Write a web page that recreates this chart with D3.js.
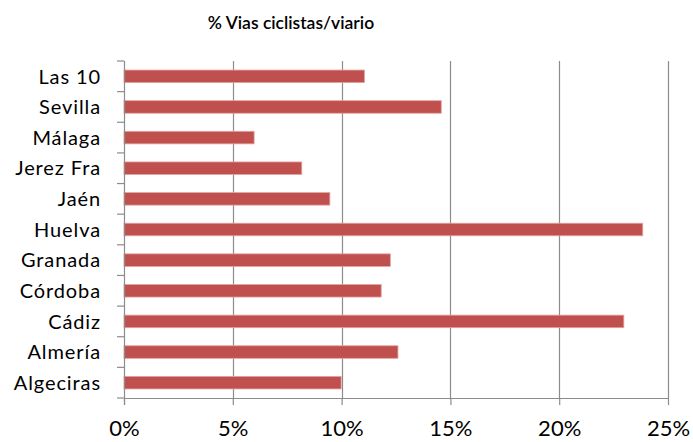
<!DOCTYPE html>
<html>
<head>
<meta charset="utf-8">
<script src="https://cdn.jsdelivr.net/npm/d3@7/dist/d3.min.js"></script>
<style>
  html, body { margin: 0; padding: 0; background: #fff; }
  svg { display: block; }
  text { font-family: Lato, "Open Sans", sans-serif; fill: #000; }
</style>
</head>
<body>
<div id="chart"></div>
<script>
// Share of cycle lanes over total road network, by city
const categories = ["Las 10", "Sevilla", "Málaga", "Jerez Fra", "Jaén", "Huelva",
                    "Granada", "Córdoba", "Cádiz", "Almería", "Algeciras"];
const values = [0.1105, 0.1458, 0.0598, 0.0817, 0.0946, 0.2384,
                0.1224, 0.1182, 0.2297, 0.1259, 0.0998];
const xTicks = [0, 0.05, 0.10, 0.15, 0.20, 0.25];
const title = "% Vias ciclistas/viario";

const W = 693, H = 442;
const margin = { top: 61, right: 25, bottom: 44, left: 124 };
const innerW = W - margin.left - margin.right;
const innerH = H - margin.top - margin.bottom;

const svg = d3.select("#chart").append("svg")
  .attr("width", W).attr("height", H);

const g = svg.append("g")
  .attr("transform", `translate(${margin.left},${margin.top})`);

const x = d3.scaleLinear().domain([0, 0.25]).range([0, innerW]);
const y = d3.scaleBand().domain(categories).range([0, innerH])
  .paddingInner(0.59).paddingOuter(0.295);

const gridColor = "#8c8c8c";

// vertical gridlines
g.selectAll("line.grid").data(xTicks.slice(1)).join("line")
  .attr("class", "grid")
  .attr("x1", d => Math.round(x(d)) + 0.5).attr("x2", d => Math.round(x(d)) + 0.5)
  .attr("y1", 0).attr("y2", innerH)
  .attr("stroke", gridColor).attr("stroke-width", 1.2);

// bars
g.selectAll("rect.bar").data(categories).join("rect")
  .attr("class", "bar")
  .attr("x", 0)
  .attr("y", d => y(d))
  .attr("width", (d, i) => x(values[i]))
  .attr("height", y.bandwidth())
  .attr("fill", "#c0504d")
  .attr("stroke", "#e3a3a1")
  .attr("stroke-width", 0.8);

// x axis
const xAxis = d3.axisBottom(x).tickValues(xTicks)
  .tickFormat(d3.format(".0%")).tickSize(7).tickSizeOuter(0);
const gx = g.append("g").attr("transform", `translate(0,${innerH})`).call(xAxis);
gx.select(".domain").attr("stroke", gridColor).attr("stroke-width", 1.2);
gx.selectAll(".tick line").attr("stroke", gridColor).attr("stroke-width", 1.2);
gx.selectAll(".tick text")
  .attr("font-family", "Lato, sans-serif")
  .attr("font-size", 22).attr("dy", 0).attr("y", 38)
  .attr("fill", "#000");

// y axis: line with ticks at category boundaries
g.append("line")
  .attr("x1", 0.5).attr("x2", 0.5).attr("y1", 0).attr("y2", innerH + 7)
  .attr("stroke", gridColor).attr("stroke-width", 1.2);
const bounds = d3.range(categories.length + 1).map(i => i * y.step());
g.selectAll("line.ytick").data(bounds).join("line")
  .attr("class", "ytick")
  .attr("x1", -7).attr("x2", 0)
  .attr("y1", d => d).attr("y2", d => d)
  .attr("stroke", gridColor).attr("stroke-width", 1.2);

g.selectAll("text.ylab").data(categories).join("text")
  .attr("class", "ylab")
  .attr("x", -23)
  .attr("y", d => y(d) + y.bandwidth() / 2)
  .attr("dy", "0.36em")
  .attr("text-anchor", "end")
  .attr("font-size", 20)
  .attr("letter-spacing", 0.9)
  .text(d => d);

// title
svg.append("text")
  .attr("x", 291).attr("y", 29)
  .attr("text-anchor", "middle")
  .attr("font-size", 17.5)
  .attr("font-weight", 600)
  .text(title);
</script>
</body>
</html>
